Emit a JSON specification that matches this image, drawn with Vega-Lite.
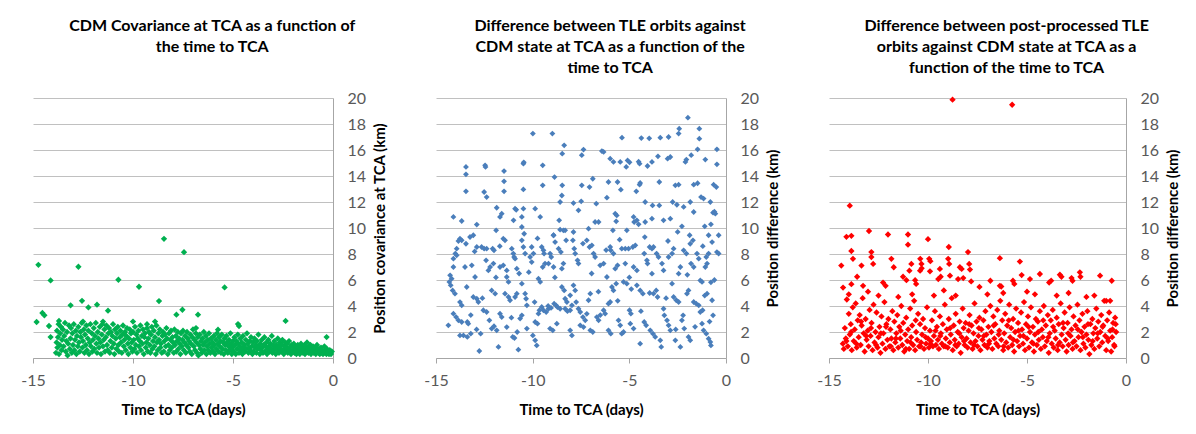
{
"$schema": "https://vega.github.io/schema/vega-lite/v6.json",
"background": "white",
"padding": {"left": 20, "top": 18, "right": 5, "bottom": 5},
"bounds": "flush",
"spacing": 103,
"config": {
  "font": "Lato",
  "view": {"stroke": null},
  "axis": {"labelFont": "Lato", "labelFontSize": 16, "labelColor": "#595959", "titleFont": "Lato", "titleFontSize": 15, "titleFontWeight": "bold", "titleColor": "#000000", "domainColor": "#a6a6a6", "tickColor": "#a6a6a6", "gridColor": "#c0c0c0"},
  "title": {"font": "Lato", "fontSize": 16, "fontWeight": "bold", "color": "#000000", "lineHeight": 21, "anchor": "middle", "frame": "bounds", "offset": 14, "dx": 8}
},
"datasets": {
"a": [
{"t":-14.73,"v":7.17},{"t":-14.12,"v":5.97},{"t":-12.73,"v":7.02},{"t":-8.45,"v":9.17},{"t":-7.45,"v":8.14},{"t":-10.73,"v":6.02},{"t":-9.7,"v":5.48},{"t":-5.42,"v":5.43},{"t":-8.7,"v":4.38},{"t":-12.55,"v":4.4},{"t":-13.12,"v":4.05},{"t":-12.23,"v":3.89},{"t":-11.8,"v":4.1},{"t":-11.25,"v":3.64},{"t":-14.53,"v":3.46},{"t":-14.43,"v":3.28},{"t":-14.2,"v":2.46},{"t":-14.82,"v":2.77},{"t":-14.12,"v":1.61},{"t":-7.53,"v":3.71},{"t":-7.83,"v":3.33},{"t":-6.75,"v":3.33},{"t":-4.75,"v":2.61},{"t":-4.7,"v":2.46},{"t":-5.75,"v":2.18},{"t":-2.37,"v":2.85},{"t":-0.32,"v":1.61},{"t":-6.85,"v":2.3},{"t":-10.0,"v":2.8},{"t":-9.3,"v":2.6},{"t":-8.9,"v":2.8},{"t":-13.7,"v":2.85},{"t":-12.5,"v":2.8},{"t":-11.5,"v":2.8},
{"t":-13.85,"v":0.4},{"t":-13.82,"v":1.2},{"t":-13.8,"v":2.1},{"t":-13.78,"v":0.8},{"t":-13.75,"v":1.6},{"t":-13.72,"v":2.6},{"t":-13.7,"v":0.3},{"t":-13.66,"v":1.0},{"t":-13.64,"v":1.9},{"t":-13.6,"v":2.4},{"t":-13.57,"v":0.6},{"t":-13.55,"v":1.4},{"t":-13.5,"v":2.2},{"t":-13.47,"v":0.9},{"t":-13.44,"v":1.7},{"t":-13.4,"v":2.7},{"t":-13.36,"v":0.5},{"t":-13.33,"v":1.3},{"t":-13.3,"v":2.0},{"t":-13.27,"v":0.2},{"t":-13.24,"v":1.1},{"t":-13.2,"v":2.5},{"t":-13.16,"v":0.7},{"t":-13.13,"v":1.5},{"t":-13.1,"v":2.3},{"t":-13.06,"v":0.4},{"t":-13.03,"v":1.9},{"t":-13.0,"v":1.0},{"t":-12.96,"v":2.6},{"t":-12.93,"v":0.6},{"t":-12.9,"v":1.4},{"t":-12.86,"v":2.1},{"t":-12.83,"v":0.3},{"t":-12.8,"v":1.7},{"t":-12.76,"v":0.9},{"t":-12.73,"v":2.4},{"t":-12.7,"v":1.2},{"t":-12.66,"v":0.5},{"t":-12.63,"v":2.0},{"t":-12.6,"v":1.6},{"t":-12.56,"v":2.7},{"t":-12.53,"v":0.8},{"t":-12.5,"v":1.3},{"t":-12.46,"v":2.2},{"t":-12.43,"v":0.4},{"t":-12.4,"v":1.8},{"t":-12.36,"v":1.0},{"t":-12.33,"v":2.5},{"t":-12.3,"v":0.6},{"t":-12.26,"v":1.5},{"t":-12.23,"v":2.1},{"t":-12.2,"v":0.3},{"t":-12.16,"v":1.2},{"t":-12.13,"v":2.6},{"t":-12.1,"v":0.9},{"t":-12.06,"v":1.9},{"t":-12.03,"v":0.5},{"t":-12.0,"v":1.4},{"t":-11.96,"v":2.3},{"t":-11.93,"v":0.7},{"t":-11.9,"v":1.7},{"t":-11.86,"v":2.7},{"t":-11.83,"v":1.1},{"t":-11.8,"v":0.4},{"t":-11.76,"v":2.0},{"t":-11.73,"v":1.5},{"t":-11.7,"v":0.8},{"t":-11.66,"v":2.4},{"t":-11.63,"v":1.2},{"t":-11.6,"v":0.3},{"t":-11.56,"v":1.8},{"t":-11.53,"v":2.6},{"t":-11.5,"v":0.9},{"t":-11.46,"v":1.4},{"t":-11.43,"v":2.2},{"t":-11.4,"v":0.5},{"t":-11.36,"v":1.6},{"t":-11.33,"v":2.5},{"t":-11.3,"v":1.0},{"t":-11.26,"v":0.6},{"t":-11.23,"v":1.9},{"t":-11.2,"v":2.3},{"t":-11.16,"v":0.4},{"t":-11.13,"v":1.3},{"t":-11.1,"v":2.0},{"t":-11.06,"v":0.8},{"t":-11.03,"v":1.7},{"t":-11.0,"v":2.6},{"t":-10.96,"v":1.1},{"t":-10.93,"v":0.3},{"t":-10.9,"v":2.2},{"t":-10.86,"v":1.5},{"t":-10.83,"v":0.7},{"t":-10.8,"v":1.9},{"t":-10.76,"v":2.4},{"t":-10.73,"v":1.0},{"t":-10.7,"v":0.5},{"t":-10.66,"v":1.6},{"t":-10.63,"v":2.1},{"t":-10.6,"v":1.2},{"t":-10.56,"v":0.4},{"t":-10.53,"v":1.8},{"t":-10.5,"v":2.5},{"t":-10.46,"v":0.9},{"t":-10.43,"v":1.4},{"t":-10.4,"v":2.0},{"t":-10.36,"v":0.6},{"t":-10.33,"v":1.7},{"t":-10.3,"v":2.3},{"t":-10.26,"v":1.1},{"t":-10.23,"v":0.3},{"t":-10.2,"v":1.5},{"t":-10.16,"v":2.2},{"t":-10.13,"v":0.8},{"t":-10.1,"v":1.9},{"t":-10.06,"v":1.2},{"t":-10.03,"v":0.5},{"t":-10.0,"v":2.0},{"t":-9.96,"v":1.4},{"t":-9.93,"v":0.7},{"t":-9.9,"v":2.4},{"t":-9.86,"v":1.0},{"t":-9.83,"v":1.8},{"t":-9.8,"v":0.4},{"t":-9.76,"v":1.5},{"t":-9.73,"v":2.1},{"t":-9.7,"v":0.9},{"t":-9.66,"v":1.3},{"t":-9.63,"v":2.5},{"t":-9.6,"v":0.6},{"t":-9.56,"v":1.7},{"t":-9.53,"v":1.1},{"t":-9.5,"v":2.2},{"t":-9.46,"v":0.3},{"t":-9.43,"v":1.6},{"t":-9.4,"v":1.9},{"t":-9.36,"v":0.8},{"t":-9.33,"v":1.2},{"t":-9.3,"v":2.3},{"t":-9.26,"v":0.5},{"t":-9.23,"v":1.5},{"t":-9.2,"v":2.0},{"t":-9.16,"v":1.0},{"t":-9.13,"v":0.4},{"t":-9.1,"v":1.8},{"t":-9.06,"v":2.4},{"t":-9.03,"v":0.7},{"t":-9.0,"v":1.3},{"t":-8.96,"v":2.1},{"t":-8.93,"v":0.9},{"t":-8.9,"v":1.6},{"t":-8.86,"v":0.3},{"t":-8.83,"v":2.5},{"t":-8.8,"v":1.2},{"t":-8.76,"v":0.6},{"t":-8.73,"v":1.9},{"t":-8.7,"v":1.4},{"t":-8.66,"v":2.2},{"t":-8.63,"v":0.8},{"t":-8.6,"v":1.1},{"t":-8.56,"v":0.4},{"t":-8.53,"v":1.7},{"t":-8.5,"v":2.0},{"t":-8.46,"v":0.5},{"t":-8.43,"v":1.3},{"t":-8.4,"v":1.8},{"t":-8.36,"v":0.9},{"t":-8.33,"v":2.3},{"t":-8.3,"v":1.5},{"t":-8.26,"v":0.3},{"t":-8.23,"v":1.0},{"t":-8.2,"v":1.9},{"t":-8.16,"v":0.6},{"t":-8.13,"v":1.4},{"t":-8.1,"v":2.1},{"t":-8.06,"v":0.8},{"t":-8.03,"v":1.6},{"t":-8.0,"v":1.2},{"t":-7.96,"v":0.4},{"t":-7.93,"v":2.2},{"t":-7.9,"v":1.0},{"t":-7.86,"v":1.7},{"t":-7.83,"v":0.5},{"t":-7.8,"v":1.3},{"t":-7.76,"v":2.0},{"t":-7.73,"v":0.7},{"t":-7.7,"v":1.5},{"t":-7.66,"v":1.1},{"t":-7.63,"v":0.3},{"t":-7.6,"v":1.9},{"t":-7.56,"v":0.9},{"t":-7.53,"v":1.4},{"t":-7.5,"v":2.1},{"t":-7.46,"v":0.6},{"t":-7.43,"v":1.2},{"t":-7.4,"v":1.7},{"t":-7.36,"v":0.4},{"t":-7.33,"v":1.0},{"t":-7.3,"v":2.0},{"t":-7.26,"v":1.5},{"t":-7.23,"v":0.8},{"t":-7.2,"v":1.3},{"t":-7.16,"v":0.5},{"t":-7.13,"v":1.8},{"t":-7.1,"v":1.1},{"t":-7.06,"v":0.3},{"t":-7.03,"v":1.6},{"t":-7.0,"v":2.2},{"t":-6.96,"v":0.9},{"t":-6.93,"v":1.4},{"t":-6.9,"v":0.6},{"t":-6.86,"v":1.9},{"t":-6.83,"v":1.2},{"t":-6.8,"v":0.4},{"t":-6.76,"v":1.6},{"t":-6.73,"v":0.2},{"t":-6.7,"v":1.0},{"t":-6.66,"v":1.8},{"t":-6.63,"v":0.7},{"t":-6.6,"v":1.3},{"t":-6.56,"v":0.4},{"t":-6.53,"v":1.5},{"t":-6.5,"v":1.0},{"t":-6.46,"v":2.0},{"t":-6.43,"v":0.6},{"t":-6.4,"v":1.2},{"t":-6.36,"v":1.7},{"t":-6.33,"v":0.3},{"t":-6.3,"v":0.9},{"t":-6.26,"v":1.4},{"t":-6.23,"v":0.6},{"t":-6.2,"v":1.9},{"t":-6.16,"v":1.1},{"t":-6.13,"v":0.4},{"t":-6.1,"v":1.5},{"t":-6.06,"v":0.8},{"t":-6.03,"v":1.2},{"t":-6.0,"v":0.5},{"t":-5.96,"v":1.7},{"t":-5.93,"v":1.0},{"t":-5.9,"v":0.3},{"t":-5.86,"v":1.4},{"t":-5.83,"v":0.7},{"t":-5.8,"v":1.9},{"t":-5.76,"v":1.1},{"t":-5.73,"v":0.5},{"t":-5.7,"v":1.6},{"t":-5.66,"v":0.9},{"t":-5.63,"v":1.3},{"t":-5.6,"v":0.4},{"t":-5.56,"v":1.8},{"t":-5.53,"v":0.7},{"t":-5.5,"v":1.2},{"t":-5.46,"v":0.3},{"t":-5.43,"v":1.5},{"t":-5.4,"v":1.0},{"t":-5.36,"v":0.6},{"t":-5.33,"v":1.7},{"t":-5.3,"v":1.2},{"t":-5.26,"v":0.4},{"t":-5.23,"v":0.9},{"t":-5.2,"v":1.4},{"t":-5.16,"v":0.6},{"t":-5.13,"v":1.9},{"t":-5.1,"v":1.1},{"t":-5.06,"v":0.3},{"t":-5.03,"v":0.8},{"t":-5.0,"v":1.3},
{"t":-4.96,"v":0.5},{"t":-4.93,"v":1.6},{"t":-4.9,"v":1.0},{"t":-4.86,"v":0.3},{"t":-4.83,"v":1.3},{"t":-4.8,"v":0.7},{"t":-4.76,"v":1.8},{"t":-4.73,"v":1.1},{"t":-4.7,"v":0.4},{"t":-4.66,"v":0.9},{"t":-4.63,"v":1.5},{"t":-4.6,"v":0.6},{"t":-4.56,"v":1.2},{"t":-4.53,"v":0.3},{"t":-4.5,"v":1.7},{"t":-4.46,"v":0.8},{"t":-4.43,"v":1.0},{"t":-4.4,"v":0.5},{"t":-4.36,"v":1.4},{"t":-4.33,"v":0.7},{"t":-4.3,"v":1.9},{"t":-4.26,"v":1.1},{"t":-4.23,"v":0.4},{"t":-4.2,"v":0.8},{"t":-4.16,"v":1.3},{"t":-4.13,"v":0.6},{"t":-4.1,"v":1.6},{"t":-4.06,"v":0.9},{"t":-4.03,"v":0.3},{"t":-4.0,"v":1.2},{"t":-3.96,"v":0.5},{"t":-3.93,"v":1.5},{"t":-3.9,"v":0.8},{"t":-3.86,"v":1.0},{"t":-3.83,"v":0.4},{"t":-3.8,"v":1.3},{"t":-3.76,"v":0.7},{"t":-3.73,"v":1.8},{"t":-3.7,"v":0.9},{"t":-3.66,"v":0.3},{"t":-3.63,"v":1.1},{"t":-3.6,"v":0.6},{"t":-3.56,"v":1.4},{"t":-3.53,"v":0.8},{"t":-3.5,"v":0.4},{"t":-3.46,"v":1.0},{"t":-3.43,"v":1.6},{"t":-3.4,"v":0.5},{"t":-3.36,"v":0.9},{"t":-3.33,"v":1.2},{"t":-3.3,"v":0.3},{"t":-3.26,"v":0.7},{"t":-3.23,"v":1.4},{"t":-3.2,"v":0.9},{"t":-3.16,"v":0.5},{"t":-3.13,"v":1.1},{"t":-3.1,"v":0.7},{"t":-3.06,"v":1.7},{"t":-3.03,"v":0.4},{"t":-3.0,"v":1.0},{"t":-2.96,"v":0.6},{"t":-2.93,"v":1.3},{"t":-2.9,"v":0.8},{"t":-2.86,"v":0.3},{"t":-2.83,"v":1.0},{"t":-2.8,"v":0.6},{"t":-2.76,"v":1.5},{"t":-2.73,"v":0.9},{"t":-2.7,"v":0.4},{"t":-2.66,"v":1.2},{"t":-2.63,"v":0.7},{"t":-2.6,"v":0.5},{"t":-2.56,"v":1.0},{"t":-2.53,"v":1.4},{"t":-2.5,"v":0.6},{"t":-2.46,"v":0.3},{"t":-2.43,"v":0.9},{"t":-2.4,"v":1.2},{"t":-2.36,"v":0.5},{"t":-2.33,"v":0.8},{"t":-2.3,"v":1.1},{"t":-2.26,"v":0.4},{"t":-2.23,"v":0.7},{"t":-2.2,"v":1.3},{"t":-2.16,"v":0.6},{"t":-2.13,"v":0.9},{"t":-2.1,"v":0.3},{"t":-2.06,"v":1.0},{"t":-2.03,"v":0.5},{"t":-2.0,"v":0.8},{"t":-1.96,"v":1.1},{"t":-1.93,"v":0.4},{"t":-1.9,"v":0.7},{"t":-1.86,"v":0.9},{"t":-1.83,"v":0.3},{"t":-1.8,"v":0.6},{"t":-1.76,"v":1.0},{"t":-1.73,"v":0.5},{"t":-1.7,"v":0.8},{"t":-1.66,"v":0.3},{"t":-1.63,"v":0.7},{"t":-1.6,"v":1.1},{"t":-1.56,"v":0.5},{"t":-1.53,"v":0.9},{"t":-1.5,"v":0.4},{"t":-1.46,"v":0.6},{"t":-1.43,"v":1.0},{"t":-1.4,"v":0.3},{"t":-1.36,"v":0.8},{"t":-1.33,"v":0.5},{"t":-1.3,"v":1.2},{"t":-1.26,"v":0.7},{"t":-1.23,"v":0.4},{"t":-1.2,"v":0.9},{"t":-1.16,"v":0.6},{"t":-1.13,"v":1.0},{"t":-1.1,"v":0.3},{"t":-1.06,"v":0.7},{"t":-1.03,"v":0.5},{"t":-1.0,"v":0.9},{"t":-0.96,"v":0.4},{"t":-0.93,"v":0.6},{"t":-0.9,"v":0.8},{"t":-0.86,"v":0.3},{"t":-0.83,"v":0.5},{"t":-0.8,"v":1.0},{"t":-0.76,"v":0.6},{"t":-0.73,"v":0.4},{"t":-0.7,"v":0.7},{"t":-0.66,"v":0.3},{"t":-0.63,"v":0.5},{"t":-0.6,"v":0.8},{"t":-0.56,"v":0.4},{"t":-0.53,"v":0.6},{"t":-0.5,"v":0.3},{"t":-0.46,"v":0.5},{"t":-0.43,"v":0.9},{"t":-0.4,"v":0.4},{"t":-0.36,"v":0.6},{"t":-0.33,"v":0.3},{"t":-0.3,"v":0.7},{"t":-0.26,"v":0.4},{"t":-0.23,"v":0.5},{"t":-0.2,"v":0.3},{"t":-0.16,"v":0.6},{"t":-0.13,"v":0.4},{"t":-0.1,"v":0.3},{"t":-0.06,"v":0.5}
],
"b": [
{"t":-1.97,"v":18.49},{"t":-9.99,"v":17.26},{"t":-8.98,"v":17.26},{"t":-5.38,"v":16.95},{"t":-4.38,"v":16.92},{"t":-3.97,"v":16.9},{"t":-3.4,"v":16.95},{"t":-2.97,"v":17.0},{"t":-2.42,"v":17.64},{"t":-2.45,"v":17.26},{"t":-1.38,"v":17.64},{"t":-1.38,"v":16.87},{"t":-1.47,"v":16.05},{"t":-0.47,"v":16.05},{"t":-0.47,"v":14.9},{"t":-1.07,"v":15.26},{"t":-2.05,"v":15.26},{"t":-2.1,"v":15.08},{"t":-1.8,"v":15.6},{"t":-8.37,"v":16.36},{"t":-8.47,"v":15.72},{"t":-7.37,"v":16.03},{"t":-7.46,"v":15.6},{"t":-6.42,"v":15.92},{"t":-6.33,"v":15.85},{"t":-5.99,"v":15.33},{"t":-5.82,"v":15.08},{"t":-5.47,"v":15.08},{"t":-5.09,"v":15.2},{"t":-4.99,"v":15.05},{"t":-5.16,"v":14.7},{"t":-4.52,"v":15.1},{"t":-4.47,"v":14.95},{"t":-4.06,"v":14.77},{"t":-3.83,"v":15.08},{"t":-3.52,"v":15.51},{"t":-3.02,"v":15.33},{"t":-2.88,"v":15.46},{"t":-13.45,"v":14.7},{"t":-13.45,"v":14.13},{"t":-13.45,"v":12.82},{"t":-12.46,"v":14.82},{"t":-12.44,"v":14.7},{"t":-11.48,"v":14.38},{"t":-11.48,"v":13.59},{"t":-11.48,"v":12.82},{"t":-10.48,"v":14.95},{"t":-10.46,"v":15.05},{"t":-10.48,"v":12.97},{"t":-9.48,"v":14.82},{"t":-9.48,"v":13.28},{"t":-8.87,"v":13.92},{"t":-8.47,"v":13.28},{"t":-7.46,"v":13.28},{"t":-7.06,"v":13.15},{"t":-6.89,"v":13.79},{"t":-6.08,"v":13.54},{"t":-5.61,"v":13.54},{"t":-5.44,"v":12.95},{"t":-4.44,"v":13.46},{"t":-4.47,"v":13.33},{"t":-3.45,"v":13.54},{"t":-2.62,"v":13.28},{"t":-2.45,"v":13.33},{"t":-1.67,"v":13.33},{"t":-1.47,"v":13.44},{"t":-0.64,"v":13.33},{"t":-0.5,"v":13.15},{"t":-4.64,"v":12.82},{"t":-12.51,"v":12.77},{"t":-12.38,"v":12.38},{"t":-8.58,"v":12.0},{"t":-8.49,"v":12.5},{"t":-7.89,"v":11.92},{"t":-7.49,"v":12.05},{"t":-6.71,"v":11.87},{"t":-6.16,"v":12.33},{"t":-7.63,"v":11.36},{"t":-4.18,"v":12.0},{"t":-3.8,"v":11.74},{"t":-3.45,"v":11.74},{"t":-2.76,"v":12.0},{"t":-2.54,"v":11.79},{"t":-2.19,"v":11.62},{"t":-1.85,"v":12.0},{"t":-1.29,"v":12.38},{"t":-1.16,"v":12.26},{"t":-1.67,"v":11.23},{"t":-0.81,"v":12.0},{"t":-0.67,"v":11.18},{"t":-0.55,"v":11.1},{"t":-0.6,"v":11.25},{"t":-11.86,"v":11.56},{"t":-11.69,"v":10.85},{"t":-11.6,"v":11.1},{"t":-10.91,"v":11.49},{"t":-10.85,"v":11.4},{"t":-10.48,"v":11.49},{"t":-9.87,"v":11.49},{"t":-10.56,"v":10.85},{"t":-9.61,"v":10.85},{"t":-14.1,"v":10.85},{"t":-13.67,"v":10.54},{"t":-12.89,"v":10.26},{"t":-11.89,"v":9.82},{"t":-10.99,"v":10.59},{"t":-10.56,"v":10.08},{"t":-8.63,"v":10.59},{"t":-7.11,"v":9.95},{"t":-6.77,"v":10.46},{"t":-6.59,"v":10.46},{"t":-5.68,"v":10.51},{"t":-5.65,"v":10.97},{"t":-5.73,"v":11.1},{"t":-5.13,"v":9.82},{"t":-4.78,"v":10.85},{"t":-4.75,"v":10.46},{"t":-4.61,"v":10.59},{"t":-4.52,"v":10.28},{"t":-4.18,"v":10.46},{"t":-3.83,"v":10.72},{"t":-3.23,"v":10.59},{"t":-2.88,"v":10.72},{"t":-2.28,"v":10.13},{"t":-1.88,"v":9.44},{"t":-1.1,"v":10.13},{"t":-0.78,"v":10.28},{"t":-0.9,"v":9.44},{"t":-0.38,"v":9.44},{"t":-8.58,"v":9.87},{"t":-8.32,"v":9.82},{"t":-8.92,"v":9.44},{"t":-7.89,"v":9.69},{"t":-5.85,"v":9.82},
{"t":-14.36,"v":2.51},{"t":-14.1,"v":7.0},{"t":-14.1,"v":7.64},{"t":-14.0,"v":8.03},{"t":-13.93,"v":8.41},{"t":-14.27,"v":6.36},{"t":-14.19,"v":6.1},{"t":-14.31,"v":5.85},{"t":-14.24,"v":5.59},{"t":-14.14,"v":5.2},{"t":-14.02,"v":4.95},{"t":-13.84,"v":9.0},{"t":-13.76,"v":9.18},{"t":-13.67,"v":9.05},{"t":-13.93,"v":7.9},{"t":-13.76,"v":4.3},{"t":-13.67,"v":4.05},{"t":-14.1,"v":3.41},{"t":-13.96,"v":3.15},{"t":-13.84,"v":2.9},{"t":-13.67,"v":2.77},{"t":-13.76,"v":1.74},{"t":-13.58,"v":1.74},{"t":-13.38,"v":1.62},{"t":-13.45,"v":8.79},{"t":-13.5,"v":7.0},{"t":-13.41,"v":5.46},{"t":-13.24,"v":9.31},{"t":-13.07,"v":9.44},{"t":-12.89,"v":8.54},{"t":-13.15,"v":7.13},{"t":-12.98,"v":6.23},{"t":-13.07,"v":4.69},{"t":-12.89,"v":4.56},{"t":-12.81,"v":4.31},{"t":-13.2,"v":1.87},{"t":-12.69,"v":1.87},{"t":-13.38,"v":2.77},{"t":-13.33,"v":2.64},{"t":-12.76,"v":0.54},{"t":-12.64,"v":8.54},{"t":-12.51,"v":8.41},{"t":-12.38,"v":8.41},{"t":-12.41,"v":7.51},{"t":-12.29,"v":6.74},{"t":-12.2,"v":7.0},{"t":-12.03,"v":7.26},{"t":-12.55,"v":3.67},{"t":-12.38,"v":3.54},{"t":-12.24,"v":2.9},{"t":-12.12,"v":5.2},{"t":-11.94,"v":4.95},{"t":-12.12,"v":2.26},{"t":-12.0,"v":2.44},{"t":-11.86,"v":2.13},{"t":-12.07,"v":8.41},{"t":-12.0,"v":8.28},{"t":-11.77,"v":0.85},{"t":-11.69,"v":3.41},{"t":-11.6,"v":3.15},{"t":-11.52,"v":9.18},{"t":-11.43,"v":9.05},{"t":-11.69,"v":7.0},{"t":-11.52,"v":7.13},{"t":-11.34,"v":6.74},{"t":-11.34,"v":6.23},{"t":-11.25,"v":5.85},{"t":-11.43,"v":4.95},{"t":-11.25,"v":4.69},{"t":-11.17,"v":4.44},{"t":-11.34,"v":2.38},{"t":-11.03,"v":1.62},{"t":-10.94,"v":1.54},{"t":-11.08,"v":8.41},{"t":-11.0,"v":8.03},{"t":-10.96,"v":7.77},{"t":-10.91,"v":7.64},{"t":-10.82,"v":6.87},{"t":-10.91,"v":4.69},{"t":-10.82,"v":4.95},{"t":-10.74,"v":0.64},{"t":-10.65,"v":3.03},{"t":-10.56,"v":3.28},{"t":-10.56,"v":9.05},{"t":-10.48,"v":8.54},{"t":-10.39,"v":8.03},{"t":-10.44,"v":9.56},{"t":-10.56,"v":5.72},{"t":-10.39,"v":4.95},{"t":-10.34,"v":4.56},{"t":-10.3,"v":4.05},{"t":-10.3,"v":2.26},{"t":-10.13,"v":7.77},{"t":-10.05,"v":7.38},{"t":-9.96,"v":8.03},{"t":-10.05,"v":8.54},{"t":-9.99,"v":1.74},{"t":-9.87,"v":1.36},{"t":-9.87,"v":2.77},{"t":-9.75,"v":2.64},{"t":-9.79,"v":0.97},{"t":-9.7,"v":6.1},{"t":-9.61,"v":5.85},{"t":-9.7,"v":3.41},{"t":-9.65,"v":3.67},{"t":-9.53,"v":3.92},{"t":-9.44,"v":3.67},{"t":-9.3,"v":3.54},{"t":-9.18,"v":3.79},{"t":-9.53,"v":8.54},{"t":-9.44,"v":8.28},{"t":-9.41,"v":8.03},{"t":-9.48,"v":7.0},{"t":-9.36,"v":7.26},{"t":-9.18,"v":7.26},{"t":-9.1,"v":8.03},{"t":-9.04,"v":7.77},{"t":-8.92,"v":7.0},{"t":-9.1,"v":2.26},{"t":-8.96,"v":2.13},{"t":-8.89,"v":4.18},{"t":-8.79,"v":4.05},{"t":-8.72,"v":3.92},{"t":-8.58,"v":3.79},{"t":-8.92,"v":9.44},{"t":-8.84,"v":8.92},{"t":-8.75,"v":2.64},{"t":-8.66,"v":8.41},{"t":-8.54,"v":8.15},{"t":-8.49,"v":6.87},{"t":-8.41,"v":7.26},{"t":-8.49,"v":5.46},{"t":-8.37,"v":5.2},{"t":-8.32,"v":4.56},{"t":-8.23,"v":4.31},{"t":-8.06,"v":4.82},{"t":-8.32,"v":3.79},{"t":-8.06,"v":3.67},{"t":-7.97,"v":4.05},{"t":-8.06,"v":2.13},{"t":-7.97,"v":1.74},{"t":-8.41,"v":9.82},{"t":-8.27,"v":9.05},{"t":-7.92,"v":9.05},{"t":-7.85,"v":8.41},{"t":-7.8,"v":8.03},{"t":-7.89,"v":5.59},{"t":-7.8,"v":5.2},{"t":-7.68,"v":7.51},{"t":-7.63,"v":7.26},{"t":-7.63,"v":3.79},{"t":-7.54,"v":3.54},{"t":-7.4,"v":3.15},{"t":-7.28,"v":2.9},{"t":-7.54,"v":2.51},{"t":-7.37,"v":2.38},{"t":-7.2,"v":9.05},{"t":-7.06,"v":8.54},{"t":-6.94,"v":8.67},{"t":-7.11,"v":4.44},{"t":-7.02,"v":4.95},{"t":-7.02,"v":2.13},{"t":-6.89,"v":2.0},{"t":-6.85,"v":8.03},{"t":-6.77,"v":7.77},{"t":-6.68,"v":3.15},{"t":-6.59,"v":2.9},{"t":-6.51,"v":7.13},{"t":-6.33,"v":7.26},{"t":-6.33,"v":3.67},{"t":-6.25,"v":3.41},{"t":-6.08,"v":4.18},{"t":-5.99,"v":4.31},{"t":-6.16,"v":6.23},{"t":-5.99,"v":8.54},{"t":-5.96,"v":8.28},{"t":-5.82,"v":8.03},{"t":-5.9,"v":5.46},{"t":-5.82,"v":5.2},{"t":-5.68,"v":5.72},{"t":-6.08,"v":2.13},{"t":-5.96,"v":1.87},{"t":-5.73,"v":6.87},{"t":-5.61,"v":7.13},{"t":-5.56,"v":2.9},{"t":-5.47,"v":2.51},{"t":-5.39,"v":1.87},{"t":-5.3,"v":2.0},{"t":-5.39,"v":8.41},{"t":-5.21,"v":8.41},{"t":-5.04,"v":8.41},{"t":-5.3,"v":5.85},{"t":-5.13,"v":5.72},{"t":-5.21,"v":7.26},{"t":-4.99,"v":3.67},{"t":-4.92,"v":3.41},{"t":-4.95,"v":2.64},{"t":-4.78,"v":2.26},{"t":-4.82,"v":8.54},{"t":-4.69,"v":8.67},{"t":-4.78,"v":7.0},{"t":-4.61,"v":6.74},{"t":-4.61,"v":5.59},{"t":-4.44,"v":5.2},{"t":-4.3,"v":4.95},{"t":-4.44,"v":1.1},{"t":-4.23,"v":2.77},{"t":-4.13,"v":2.51},{"t":-4.23,"v":8.03},{"t":-4.09,"v":7.51},{"t":-4.06,"v":7.26},{"t":-3.95,"v":8.54},{"t":-3.83,"v":8.41},{"t":-3.75,"v":8.54},{"t":-3.92,"v":2.13},{"t":-3.78,"v":1.87},{"t":-3.66,"v":1.62},{"t":-3.75,"v":4.95},{"t":-3.61,"v":5.2},{"t":-3.54,"v":4.69},{"t":-3.83,"v":6.49},{"t":-3.59,"v":8.03},{"t":-3.49,"v":7.77},{"t":-3.4,"v":1.36},{"t":-3.35,"v":0.85},{"t":-3.31,"v":7.26},{"t":-3.23,"v":6.74},{"t":-3.23,"v":3.79},{"t":-3.19,"v":3.28},{"t":-3.05,"v":2.9},{"t":-2.97,"v":2.51},{"t":-2.88,"v":2.13},{"t":-2.97,"v":7.77},{"t":-2.79,"v":8.03},{"t":-2.71,"v":8.41},{"t":-2.79,"v":5.72},{"t":-2.71,"v":4.69},{"t":-2.57,"v":4.44},{"t":-2.45,"v":4.31},{"t":-2.62,"v":1.36},{"t":-2.45,"v":6.49},{"t":-2.36,"v":7.0},{"t":-2.28,"v":2.9},{"t":-2.22,"v":3.28},{"t":-2.16,"v":2.26},{"t":-2.36,"v":0.85},{"t":-2.19,"v":8.28},{"t":-2.05,"v":8.03},{"t":-2.02,"v":4.95},{"t":-1.94,"v":5.2},{"t":-1.94,"v":1.62},{"t":-1.85,"v":1.36},{"t":-1.85,"v":8.79},{"t":-1.71,"v":9.05},{"t":-1.81,"v":7.26},{"t":-1.67,"v":7.0},{"t":-1.67,"v":4.31},{"t":-1.54,"v":4.18},{"t":-1.41,"v":4.05},{"t":-1.5,"v":8.03},{"t":-1.41,"v":7.64},{"t":-1.33,"v":5.97},{"t":-1.24,"v":5.85},{"t":-1.33,"v":3.54},{"t":-1.21,"v":3.67},{"t":-1.24,"v":2.64},{"t":-1.16,"v":2.13},{"t":-1.02,"v":1.87},{"t":-1.07,"v":7.0},{"t":-0.98,"v":7.26},{"t":-1.02,"v":7.77},{"t":-0.9,"v":8.03},{"t":-0.98,"v":4.95},{"t":-0.9,"v":1.49},{"t":-0.81,"v":1.23},{"t":-0.78,"v":0.97},{"t":-0.78,"v":5.82},{"t":-0.72,"v":4.44},{"t":-0.67,"v":3.28},{"t":-0.47,"v":8.15},{"t":-0.38,"v":8.03},{"t":-0.72,"v":8.92},
{"t":-13.2,"v":3.3},{"t":-12.9,"v":2.2},{"t":-12.6,"v":4.6},{"t":-11.9,"v":6.2},{"t":-11.1,"v":3.1},{"t":-10.8,"v":2.0},{"t":-10.2,"v":6.6},{"t":-9.9,"v":4.3},{"t":-9.2,"v":4.0},{"t":-9.05,"v":3.85},{"t":-8.85,"v":6.2},{"t":-8.2,"v":3.6},{"t":-7.75,"v":4.3},{"t":-7.2,"v":3.4},{"t":-6.95,"v":6.5},{"t":-6.5,"v":3.3},{"t":-6.2,"v":8.3},{"t":-5.6,"v":4.4},{"t":-5.0,"v":6.2},{"t":-4.9,"v":5.3},{"t":-4.4,"v":3.6},{"t":-3.95,"v":5.0},{"t":-3.1,"v":4.6},{"t":-2.6,"v":2.2},{"t":-2.0,"v":6.4},{"t":-1.6,"v":2.4},{"t":-1.1,"v":4.8},{"t":-0.6,"v":6.0},{"t":-0.85,"v":2.8},{"t":-13.0,"v":8.2},{"t":-11.7,"v":8.6},{"t":-10.7,"v":6.5},{"t":-9.75,"v":9.2},{"t":-7.4,"v":8.8},{"t":-6.6,"v":5.1},{"t":-5.5,"v":9.1},{"t":-4.2,"v":9.3},{"t":-3.0,"v":9.0},{"t":-2.5,"v":9.7},{"t":-1.2,"v":8.6}
],
"c": [
{"t":-8.76,"v":19.87},{"t":-5.75,"v":19.48},{"t":-13.95,"v":11.72},{"t":-14.12,"v":9.32},{"t":-13.87,"v":9.4},{"t":-12.98,"v":9.77},{"t":-12.02,"v":9.5},{"t":-11.01,"v":9.5},{"t":-11.01,"v":8.72},{"t":-10.0,"v":9.14},{"t":-8.95,"v":8.54},{"t":-7.98,"v":8.15},{"t":-13.87,"v":8.23},{"t":-13.79,"v":7.63},{"t":-12.86,"v":8.15},{"t":-12.86,"v":7.76},{"t":-12.77,"v":7.24},{"t":-14.38,"v":7.11},{"t":-13.36,"v":7.11},{"t":-11.85,"v":7.63},{"t":-11.73,"v":6.98},{"t":-10.84,"v":7.24},{"t":-10.39,"v":7.63},{"t":-10.33,"v":7.24},{"t":-9.94,"v":7.63},{"t":-9.88,"v":7.45},{"t":-9.4,"v":6.85},{"t":-8.98,"v":7.63},{"t":-8.93,"v":7.24},{"t":-8.39,"v":6.98},{"t":-8.3,"v":6.85},{"t":-7.92,"v":7.24},{"t":-7.88,"v":6.8},{"t":-6.37,"v":7.68},{"t":-5.36,"v":7.42},{"t":-14.29,"v":5.42},{"t":-13.87,"v":5.68},{"t":-13.58,"v":6.25},{"t":-13.28,"v":5.55},{"t":-13.03,"v":5.1},{"t":-12.27,"v":5.8},{"t":-12.14,"v":5.55},{"t":-11.26,"v":6.25},{"t":-11.09,"v":5.99},{"t":-10.94,"v":6.72},{"t":-10.65,"v":5.99},{"t":-10.6,"v":5.7},{"t":-10.4,"v":6.72},{"t":-10.32,"v":6.9},{"t":-9.9,"v":6.67},{"t":-9.48,"v":6.07},{"t":-9.36,"v":6.25},{"t":-8.89,"v":6.33},{"t":-8.48,"v":6.07},{"t":-8.22,"v":6.15},{"t":-7.82,"v":5.89},{"t":-7.4,"v":5.47},{"t":-6.85,"v":5.94},{"t":-6.37,"v":5.55},{"t":-6.3,"v":5.5},{"t":-5.71,"v":5.94},{"t":-5.64,"v":5.7},{"t":-5.27,"v":6.38},{"t":-4.85,"v":6.07},{"t":-4.35,"v":6.46},{"t":-3.88,"v":5.81},{"t":-3.78,"v":5.95},{"t":-3.34,"v":6.41},{"t":-3.26,"v":6.25},{"t":-2.75,"v":6.15},{"t":-2.7,"v":5.94},{"t":-2.33,"v":6.59},{"t":-2.3,"v":6.25},{"t":-1.31,"v":6.33},{"t":-0.72,"v":5.94},
{"t":-14.0,"v":4.9},{"t":-12.5,"v":4.8},{"t":-11.5,"v":4.7},{"t":-10.8,"v":4.9},{"t":-9.7,"v":4.8},{"t":-9.2,"v":5.2},{"t":-8.6,"v":4.8},{"t":-7.0,"v":4.9},{"t":-6.2,"v":5.0},{"t":-5.0,"v":5.1},{"t":-4.6,"v":4.9},{"t":-3.5,"v":4.8},{"t":-2.9,"v":5.0},{"t":-2.0,"v":4.7},{"t":-1.6,"v":4.8},{"t":-1.0,"v":4.4},{"t":-0.8,"v":4.4},
{"t":-14.3,"v":1.1},{"t":-14.25,"v":0.7},{"t":-14.2,"v":2.3},{"t":-14.15,"v":1.5},{"t":-14.1,"v":4.5},{"t":-14.05,"v":0.9},{"t":-14.0,"v":3.4},{"t":-13.95,"v":1.8},{"t":-13.9,"v":2.6},{"t":-13.85,"v":0.6},{"t":-13.8,"v":3.9},{"t":-13.75,"v":1.3},{"t":-13.7,"v":2.2},{"t":-13.65,"v":4.2},{"t":-13.6,"v":0.8},{"t":-13.55,"v":2.9},{"t":-13.5,"v":1.6},{"t":-13.45,"v":3.3},{"t":-13.4,"v":1.0},{"t":-13.35,"v":2.5},{"t":-13.3,"v":4.6},{"t":-13.25,"v":1.9},{"t":-13.2,"v":0.5},{"t":-13.15,"v":3.0},{"t":-13.1,"v":1.4},{"t":-13.05,"v":2.1},{"t":-13.0,"v":0.9},{"t":-12.95,"v":3.7},{"t":-12.9,"v":1.7},{"t":-12.85,"v":2.7},{"t":-12.8,"v":0.6},{"t":-12.75,"v":4.1},{"t":-12.7,"v":1.2},{"t":-12.65,"v":2.0},{"t":-12.6,"v":3.5},{"t":-12.55,"v":0.8},{"t":-12.5,"v":1.6},{"t":-12.45,"v":2.4},{"t":-12.4,"v":0.4},{"t":-12.35,"v":3.2},{"t":-12.3,"v":1.1},{"t":-12.25,"v":1.9},{"t":-12.2,"v":4.3},{"t":-12.15,"v":0.7},{"t":-12.1,"v":2.6},{"t":-12.05,"v":1.4},{"t":-12.0,"v":3.0},{"t":-11.95,"v":0.9},{"t":-11.9,"v":2.2},{"t":-11.85,"v":1.5},{"t":-11.8,"v":3.6},{"t":-11.75,"v":0.6},{"t":-11.7,"v":2.8},{"t":-11.65,"v":1.2},{"t":-11.6,"v":1.9},{"t":-11.55,"v":3.3},{"t":-11.5,"v":0.8},{"t":-11.45,"v":2.4},{"t":-11.4,"v":1.5},{"t":-11.35,"v":4.0},{"t":-11.3,"v":1.0},{"t":-11.25,"v":2.7},{"t":-11.2,"v":0.5},{"t":-11.15,"v":1.8},{"t":-11.1,"v":3.1},{"t":-11.05,"v":1.3},{"t":-11.0,"v":2.2},{"t":-10.95,"v":0.7},{"t":-10.9,"v":3.8},{"t":-10.85,"v":1.6},{"t":-10.8,"v":2.5},{"t":-10.75,"v":1.0},{"t":-10.7,"v":4.4},{"t":-10.65,"v":0.6},{"t":-10.6,"v":2.0},{"t":-10.55,"v":1.4},{"t":-10.5,"v":3.4},{"t":-10.45,"v":0.9},{"t":-10.4,"v":2.6},{"t":-10.35,"v":1.2},{"t":-10.3,"v":1.8},{"t":-10.25,"v":3.0},{"t":-10.2,"v":0.7},{"t":-10.15,"v":2.3},{"t":-10.1,"v":1.1},{"t":-10.05,"v":3.9},{"t":-10.0,"v":1.5},{"t":-9.95,"v":0.8},{"t":-9.9,"v":2.1},{"t":-9.85,"v":1.3},{"t":-9.8,"v":2.9},{"t":-9.75,"v":0.9},{"t":-9.7,"v":1.7},{"t":-9.65,"v":3.6},{"t":-9.6,"v":1.0},{"t":-9.55,"v":2.4},{"t":-9.5,"v":1.4},{"t":-9.45,"v":0.7},{"t":-9.4,"v":3.2},{"t":-9.35,"v":1.9},{"t":-9.3,"v":1.1},{"t":-9.25,"v":2.6},{"t":-9.2,"v":0.9},{"t":-9.15,"v":4.1},{"t":-9.1,"v":1.5},{"t":-9.05,"v":2.2},{"t":-9.0,"v":0.8},{"t":-8.95,"v":3.0},{"t":-8.9,"v":1.2},{"t":-8.85,"v":1.8},{"t":-8.8,"v":4.6},{"t":-8.75,"v":0.6},{"t":-8.7,"v":2.5},{"t":-8.65,"v":1.4},{"t":-8.6,"v":3.4},{"t":-8.55,"v":0.9},{"t":-8.5,"v":2.0},{"t":-8.45,"v":1.1},{"t":-8.4,"v":2.8},{"t":-8.35,"v":0.4},{"t":-8.3,"v":1.6},{"t":-8.25,"v":3.8},{"t":-8.2,"v":2.3},{"t":-8.15,"v":1.0},{"t":-8.1,"v":2.7},{"t":-8.05,"v":1.5},{"t":-8.0,"v":0.8},{"t":-7.95,"v":2.1},{"t":-7.9,"v":3.3},{"t":-7.85,"v":1.2},{"t":-7.8,"v":2.5},{"t":-7.75,"v":0.7},{"t":-7.7,"v":1.9},{"t":-7.65,"v":4.2},{"t":-7.6,"v":1.3},{"t":-7.55,"v":2.8},{"t":-7.5,"v":0.9},{"t":-7.45,"v":1.7},{"t":-7.4,"v":3.1},{"t":-7.35,"v":0.6},{"t":-7.3,"v":2.2},{"t":-7.25,"v":1.4},{"t":-7.2,"v":2.9},{"t":-7.15,"v":1.0},{"t":-7.1,"v":3.6},{"t":-7.05,"v":1.8},{"t":-7.0,"v":0.8},{"t":-6.95,"v":2.4},{"t":-6.9,"v":1.3},{"t":-6.85,"v":4.0},{"t":-6.8,"v":2.0},{"t":-6.75,"v":0.7},{"t":-6.7,"v":3.2},{"t":-6.65,"v":1.5},{"t":-6.6,"v":2.6},{"t":-6.55,"v":1.1},{"t":-6.5,"v":3.7},{"t":-6.45,"v":0.9},{"t":-6.4,"v":2.1},{"t":-6.35,"v":4.4},{"t":-6.3,"v":1.4},{"t":-6.25,"v":2.9},{"t":-6.2,"v":0.6},{"t":-6.15,"v":1.9},{"t":-6.1,"v":3.4},{"t":-6.05,"v":1.2},{"t":-6.0,"v":2.5},{"t":-5.95,"v":0.8},{"t":-5.9,"v":4.1},{"t":-5.85,"v":1.6},{"t":-5.8,"v":2.3},{"t":-5.75,"v":1.0},{"t":-5.7,"v":3.0},{"t":-5.65,"v":0.5},{"t":-5.6,"v":2.0},{"t":-5.55,"v":3.8},{"t":-5.5,"v":1.3},{"t":-5.45,"v":2.7},{"t":-5.4,"v":0.9},{"t":-5.35,"v":1.7},{"t":-5.3,"v":3.5},{"t":-5.25,"v":2.2},{"t":-5.2,"v":1.1},{"t":-5.15,"v":4.3},{"t":-5.1,"v":0.6},{"t":-5.05,"v":2.6},{"t":-5.0,"v":1.5},{"t":-4.95,"v":3.2},{"t":-4.9,"v":0.8},{"t":-4.85,"v":2.0},{"t":-4.8,"v":3.9},{"t":-4.75,"v":1.2},{"t":-4.7,"v":2.4},{"t":-4.65,"v":0.5},{"t":-4.6,"v":1.8},{"t":-4.55,"v":3.0},{"t":-4.5,"v":1.0},{"t":-4.45,"v":2.8},{"t":-4.4,"v":1.4},{"t":-4.35,"v":3.6},{"t":-4.3,"v":0.7},{"t":-4.25,"v":2.2},{"t":-4.2,"v":1.6},{"t":-4.15,"v":4.0},{"t":-4.1,"v":0.9},{"t":-4.05,"v":2.5},{"t":-4.0,"v":1.3},{"t":-3.95,"v":3.3},{"t":-3.9,"v":0.4},{"t":-3.85,"v":1.9},{"t":-3.8,"v":2.9},{"t":-3.75,"v":1.1},{"t":-3.7,"v":3.7},{"t":-3.65,"v":0.8},{"t":-3.6,"v":2.1},{"t":-3.55,"v":1.5},{"t":-3.5,"v":3.1},{"t":-3.45,"v":0.6},{"t":-3.4,"v":2.6},{"t":-3.35,"v":1.2},{"t":-3.3,"v":4.2},{"t":-3.25,"v":1.8},{"t":-3.2,"v":0.9},{"t":-3.15,"v":2.3},{"t":-3.1,"v":3.5},{"t":-3.05,"v":1.4},{"t":-3.0,"v":0.5},{"t":-2.95,"v":2.7},{"t":-2.9,"v":1.0},{"t":-2.85,"v":3.9},{"t":-2.8,"v":1.7},{"t":-2.75,"v":2.2},{"t":-2.7,"v":0.7},{"t":-2.65,"v":3.2},{"t":-2.6,"v":1.3},{"t":-2.55,"v":2.5},{"t":-2.5,"v":0.9},{"t":-2.45,"v":4.1},{"t":-2.4,"v":1.6},{"t":-2.35,"v":2.9},{"t":-2.3,"v":0.6},{"t":-2.25,"v":2.0},{"t":-2.2,"v":3.4},{"t":-2.15,"v":1.1},{"t":-2.1,"v":2.4},{"t":-2.05,"v":0.8},{"t":-2.0,"v":1.8},{"t":-1.95,"v":3.6},{"t":-1.9,"v":1.4},{"t":-1.85,"v":0.3},{"t":-1.8,"v":2.6},{"t":-1.75,"v":1.0},{"t":-1.7,"v":3.0},{"t":-1.65,"v":1.9},{"t":-1.6,"v":0.7},{"t":-1.55,"v":2.3},{"t":-1.5,"v":3.8},{"t":-1.45,"v":1.5},{"t":-1.4,"v":2.8},{"t":-1.35,"v":0.9},{"t":-1.3,"v":2.0},{"t":-1.25,"v":3.3},{"t":-1.2,"v":1.2},{"t":-1.15,"v":2.5},{"t":-1.1,"v":4.4},{"t":-1.05,"v":1.7},{"t":-1.0,"v":0.6},{"t":-0.95,"v":2.9},{"t":-0.9,"v":1.3},{"t":-0.85,"v":3.5},{"t":-0.8,"v":2.1},{"t":-0.75,"v":0.5},{"t":-0.7,"v":1.6},{"t":-0.65,"v":2.7},{"t":-0.6,"v":1.0},{"t":-0.55,"v":3.1},{"t":-0.5,"v":2.0},
{"t":-8.42,"v":1.9},{"t":-8.18,"v":1.3},{"t":-7.92,"v":2.6},{"t":-7.68,"v":1.0},{"t":-7.43,"v":2.3},{"t":-7.18,"v":1.7},{"t":-6.92,"v":1.1},{"t":-6.68,"v":2.5},{"t":-6.43,"v":1.8},{"t":-6.18,"v":0.9},{"t":-5.92,"v":2.9},{"t":-5.68,"v":1.4},{"t":-5.43,"v":2.1},{"t":-5.18,"v":1.7},{"t":-4.92,"v":2.4},{"t":-4.68,"v":1.1},{"t":-4.43,"v":2.0},{"t":-4.18,"v":2.9},{"t":-3.92,"v":1.6},{"t":-3.68,"v":2.4},{"t":-3.43,"v":1.0},{"t":-3.18,"v":2.7},{"t":-2.92,"v":1.9},{"t":-2.68,"v":1.2},{"t":-2.43,"v":2.2},{"t":-2.18,"v":1.6},{"t":-1.92,"v":2.6},{"t":-1.68,"v":1.3},{"t":-1.43,"v":1.9},{"t":-1.18,"v":2.4},{"t":-0.92,"v":1.5},{"t":-0.68,"v":2.2},{"t":-0.58,"v":0.9},{"t":-0.52,"v":2.6},
{"t":-14.12,"v":1.3},{"t":-13.88,"v":2.0},{"t":-13.62,"v":1.1},{"t":-13.38,"v":2.8},{"t":-13.12,"v":1.7},{"t":-12.88,"v":2.3},{"t":-12.62,"v":1.0},{"t":-12.38,"v":1.9},{"t":-12.12,"v":2.4},{"t":-11.88,"v":0.9},{"t":-11.62,"v":1.5},{"t":-11.38,"v":2.1},{"t":-11.12,"v":0.7},{"t":-10.88,"v":1.2},{"t":-10.62,"v":2.9},{"t":-10.38,"v":0.9},{"t":-10.12,"v":1.6},{"t":-9.88,"v":1.1},{"t":-9.62,"v":2.1},{"t":-9.38,"v":1.7},{"t":-9.12,"v":0.9},{"t":-8.88,"v":2.3},{"t":-8.62,"v":1.0}
]
},
"hconcat": [
{
  "width": 300, "height": 260,
  "title": {"text": ["CDM Covariance at TCA as a function of", "the time to TCA", " "]},
  "data": {"name": "a"},
  "mark": {"type": "point", "shape": "diamond", "filled": true, "size": 40, "opacity": 1, "color": "#00b050"},
  "encoding": {
    "x": {"field": "t", "type": "quantitative", "scale": {"domain": [-15, 0], "nice": false}, "axis": {"title": "Time to TCA (days)", "values": [-15, -10, -5, 0], "labelExpr": "datum.value", "grid": false, "ticks": true, "tickSize": 5, "labelPadding": 9, "titlePadding": 14, "labelFlush": false}},
    "y": {"field": "v", "type": "quantitative", "scale": {"domain": [0, 20], "nice": false}, "axis": {"orient": "right", "title": "Position covariance at TCA  (km)", "values": [0, 2, 4, 6, 8, 10, 12, 14, 16, 18, 20], "grid": true, "ticks": false, "labelPadding": 14, "titleAngle": 270, "titlePadding": 22, "labelFlush": false}}
  }
},
{
  "width": 290, "height": 260,
  "title": {"text": ["Difference between TLE orbits against", "CDM state at TCA as a function of the", "time to TCA"]},
  "data": {"name": "b"},
  "mark": {"type": "point", "shape": "diamond", "filled": true, "size": 34, "opacity": 1, "color": "#4a7ebb"},
  "encoding": {
    "x": {"field": "t", "type": "quantitative", "scale": {"domain": [-15, 0], "nice": false}, "axis": {"title": "Time to TCA (days)", "values": [-15, -10, -5, 0], "labelExpr": "datum.value", "grid": false, "ticks": true, "tickSize": 5, "labelPadding": 9, "titlePadding": 14, "labelFlush": false}},
    "y": {"field": "v", "type": "quantitative", "scale": {"domain": [0, 20], "nice": false}, "axis": {"orient": "right", "title": "Position difference (km)", "values": [0, 2, 4, 6, 8, 10, 12, 14, 16, 18, 20], "grid": true, "ticks": false, "labelPadding": 14, "titleAngle": 270, "titlePadding": 22, "labelFlush": false}}
  }
},
{
  "width": 297, "height": 260,
  "title": {"text": ["Difference between post-processed  TLE", "orbits against CDM state at TCA as a", "function of the time to TCA"]},
  "data": {"name": "c"},
  "mark": {"type": "point", "shape": "diamond", "filled": true, "size": 40, "opacity": 1, "color": "#ff0000"},
  "encoding": {
    "x": {"field": "t", "type": "quantitative", "scale": {"domain": [-15, 0], "nice": false}, "axis": {"title": "Time to TCA (days)", "values": [-15, -10, -5, 0], "labelExpr": "datum.value", "grid": false, "ticks": true, "tickSize": 5, "labelPadding": 9, "titlePadding": 14, "labelFlush": false}},
    "y": {"field": "v", "type": "quantitative", "scale": {"domain": [0, 20], "nice": false}, "axis": {"orient": "right", "title": "Position difference (km)", "values": [0, 2, 4, 6, 8, 10, 12, 14, 16, 18, 20], "grid": true, "ticks": false, "labelPadding": 14, "titleAngle": 270, "titlePadding": 22, "labelFlush": false}}
  }
}
]
}
